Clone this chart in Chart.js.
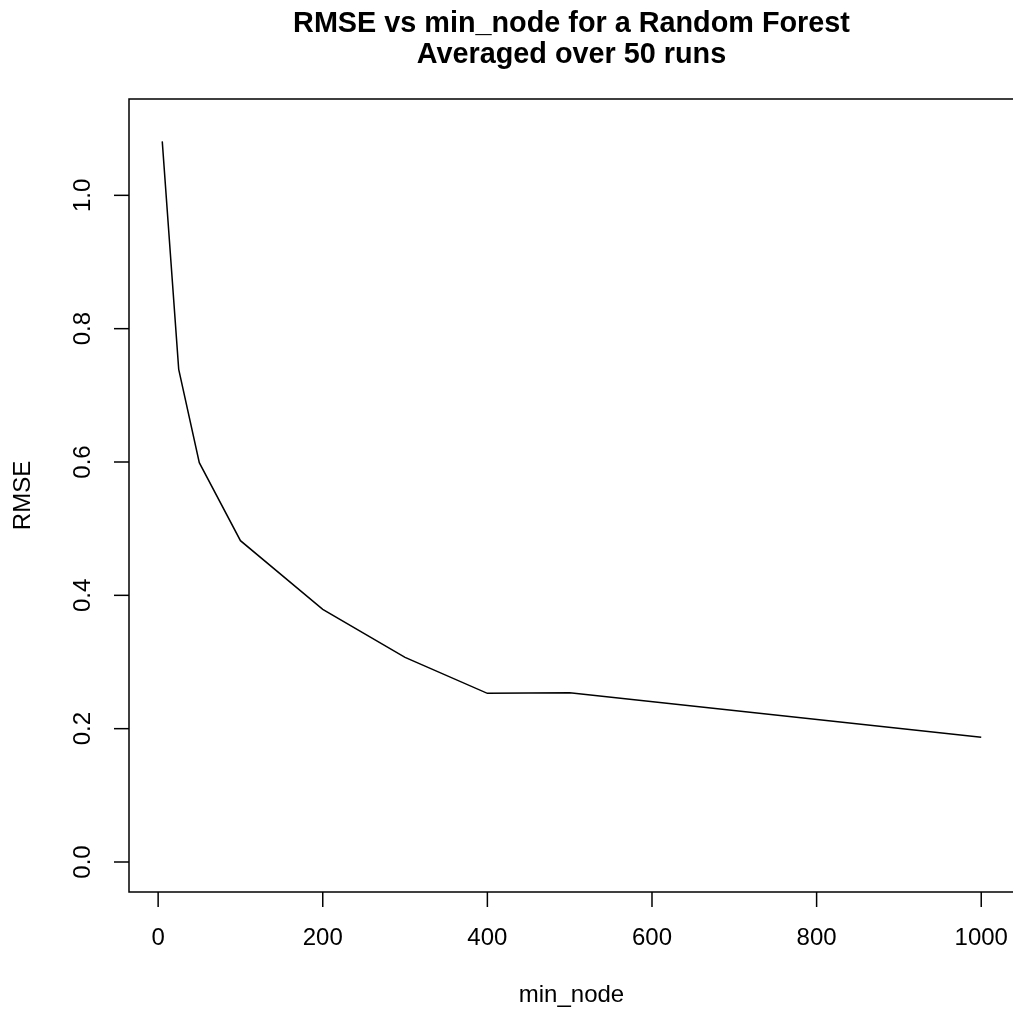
<!DOCTYPE html>
<html lang="en">

<head>
    <meta charset="UTF-8">
    <title>RMSE vs min_node</title>
    <script src="https://cdn.jsdelivr.net/npm/chart.js"></script>
    <style>
        body { margin: 0; background: #fff; }
        .canvas-container { width: 1013px; height: 1014px; }
    </style>
</head>

<body>
    <div class="canvas-container">
        <canvas id="myChart"></canvas>
    </div>

    <script>
        // values
        const minNode = [5, 25, 50, 100, 200, 300, 400, 500, 1000];
        const rmse = [1.081, 0.739, 0.599, 0.482, 0.379, 0.307, 0.253, 0.254, 0.187];

        const xTicks = [0, 200, 400, 600, 800, 1000];
        const yTicks = [0.0, 0.2, 0.4, 0.6, 0.8, 1.0];

        const titleLines = ['RMSE vs min_node for a Random Forest', 'Averaged over 50 runs'];
        const xTitle = 'min_node';
        const yTitle = 'RMSE';

        const points = minNode.map((x, i) => ({ x: x, y: rmse[i] }));

        // draws the R style box, ticks and labels
        const baseAxes = {
            id: 'baseAxes',
            afterDraw(chart) {
                const ctx = chart.ctx;
                const area = chart.chartArea;
                const xs = chart.scales.x;
                const ys = chart.scales.y;
                const tick = 15;

                ctx.save();
                ctx.strokeStyle = '#000';
                ctx.fillStyle = '#000';
                ctx.lineWidth = 1.5;
                ctx.strokeRect(area.left, area.top, area.right - area.left + 1, area.bottom - area.top);

                ctx.font = '24px "Liberation Sans", Arial, sans-serif';
                ctx.textAlign = 'center';
                ctx.textBaseline = 'middle';

                xTicks.forEach(v => {
                    const px = xs.getPixelForValue(v);
                    ctx.beginPath();
                    ctx.moveTo(px, area.bottom);
                    ctx.lineTo(px, area.bottom + tick);
                    ctx.stroke();
                    ctx.fillText(String(v), px, area.bottom + 46);
                });

                yTicks.forEach(v => {
                    const py = ys.getPixelForValue(v);
                    ctx.beginPath();
                    ctx.moveTo(area.left, py);
                    ctx.lineTo(area.left - tick, py);
                    ctx.stroke();
                    ctx.save();
                    ctx.translate(area.left - 46, py);
                    ctx.rotate(-Math.PI / 2);
                    ctx.fillText(v.toFixed(1), 0, 0);
                    ctx.restore();
                });

                ctx.fillText(xTitle, (area.left + area.right + 1) / 2, area.bottom + 103);
                ctx.save();
                ctx.translate(23, (area.top + area.bottom) / 2);
                ctx.rotate(-Math.PI / 2);
                ctx.fillText(yTitle, 0, 0);
                ctx.restore();

                ctx.font = 'bold 28.8px "Liberation Sans", Arial, sans-serif';
                ctx.textBaseline = 'alphabetic';
                ctx.fillText(titleLines[0], (area.left + area.right + 1) / 2, 32);
                ctx.fillText(titleLines[1], (area.left + area.right + 1) / 2, 63);
                ctx.restore();
            }
        };

        new Chart(document.getElementById('myChart'), {
            type: 'scatter',
            data: {
                datasets: [{
                    data: points,
                    showLine: true,
                    borderColor: '#000',
                    borderWidth: 1.5,
                    pointRadius: 0,
                    tension: 0
                }]
            },
            options: {
                responsive: true,
                maintainAspectRatio: false,
                animation: false,
                layout: { padding: { left: 129, top: 99, right: 0, bottom: 122 } },
                plugins: { legend: { display: false }, tooltip: { enabled: false } },
                scales: {
                    x: { type: 'linear', display: false, min: -35.4, max: 1038.6 },
                    y: { type: 'linear', display: false, min: -0.045, max: 1.1445 }
                }
            },
            plugins: [baseAxes]
        });
    </script>
</body>

</html>
